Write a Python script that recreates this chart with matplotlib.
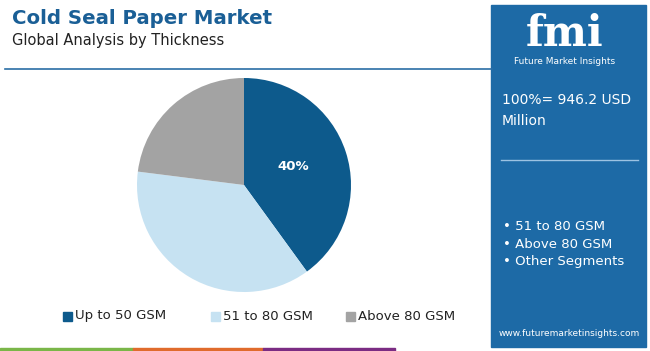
import matplotlib.pyplot as plt
from matplotlib.patches import Rectangle

# data
labels = ['Up to 50 GSM', '51 to 80 GSM', 'Above 80 GSM']
shares = [40, 37, 23]
colors = ['#0d5a8c', '#c6e2f2', '#a3a3a3']
side_items = ['51 to 80 GSM', 'Above 80 GSM', 'Other Segments']

W, H = 650, 351
fig = plt.figure(figsize=(6.5, 3.51), dpi=100)
fig.patch.set_facecolor('white')

def fx(x):
    return x / W

def fy(y):
    return 1 - y / H

# title block
fig.text(fx(12), fy(18), 'Cold Seal Paper Market', fontsize=14.2, fontweight='bold',
         color='#1a5f96', va='center', ha='left')
fig.text(fx(12), fy(40), 'Global Analysis by Thickness', fontsize=10.5, color='#222222',
         va='center', ha='left')
fig.add_artist(plt.Line2D([fx(5), fx(492)], [fy(69), fy(69)], color='#2a6ea6', lw=1.2))

# pie
ax = fig.add_axes([fx(137), fy(292), fx(214), 214 / H])
wedges, _ = ax.pie(shares, colors=colors, startangle=90, counterclock=False,
                   wedgeprops=dict(linewidth=0))
ax.set_xlim(-1, 1)
ax.set_ylim(-1, 1)
ax.text(0.46, 0.17, f'{shares[0]}%', color='white', fontsize=9.5, fontweight='bold',
        ha='center', va='center')
ax.set_aspect('equal')

# legend
lx = [63, 211, 346]
for x, lab, c in zip(lx, labels, colors):
    fig.patches.append(Rectangle((fx(x), fy(321)), fx(9), 9 / H, color=c,
                                 transform=fig.transFigure))
    fig.text(fx(x + 12), fy(316), lab, fontsize=9.5, color='#222222', va='center', ha='left')

# bottom strips
for x0, x1, c in [(0, 133, '#7ab648'), (133, 263, '#e06b2c'), (263, 395, '#7b2c83')]:
    fig.patches.append(Rectangle((fx(x0), 0), fx(x1 - x0), 3 / H, color=c,
                                 transform=fig.transFigure))

# right panel
fig.patches.append(Rectangle((fx(491), fy(347)), fx(155), 342 / H, color='#1d6aa6',
                             transform=fig.transFigure))
fig.text(fx(565), fy(34), 'fmi', fontsize=30, fontweight='bold', color='white',
         ha='center', va='center', family='DejaVu Serif')
fig.text(fx(565), fy(61), 'Future Market Insights', fontsize=6.5, color='white',
         ha='center', va='center')
fig.text(fx(502), fy(100), '100%= 946.2 USD', fontsize=10, color='white', va='center', ha='left')
fig.text(fx(502), fy(121), 'Million', fontsize=10, color='white', va='center', ha='left')
fig.add_artist(plt.Line2D([fx(501), fx(638)], [fy(160), fy(160)], color='#9cc3e3', lw=1))
for i, s in enumerate(side_items):
    fig.text(fx(503), fy(227 + i * 17.5), '\u2022 ' + s, fontsize=9.5, color='white',
             va='center', ha='left')
fig.text(fx(569), fy(334), 'www.futuremarketinsights.com', fontsize=6.5, color='white',
         ha='center', va='center')

fig.savefig('out.png', dpi=100)
